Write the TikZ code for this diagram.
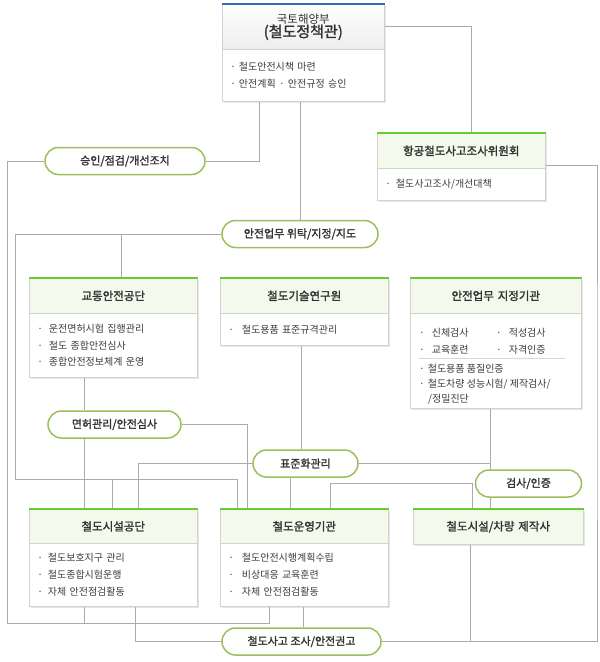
\documentclass[tikz,border=0pt]{standalone}
\usepackage{fontspec}
\setmainfont{Noto Sans CJK KR}
\newfontfamily\medfont[FakeBold=1.6]{Noto Sans CJK KR}
\usetikzlibrary{calc,backgrounds}
\definecolor{linec}{HTML}{ABABAB}
\definecolor{pillc}{HTML}{9CBF5B}
\definecolor{bordc}{HTML}{D2D2D2}
\definecolor{hdrfill}{HTML}{F3FAEC}
\definecolor{barg}{HTML}{66CC33}
\definecolor{barb}{HTML}{2E6DB0}
\definecolor{txt}{HTML}{333333}
\definecolor{btxt}{HTML}{3C3C3C}
\definecolor{shad}{HTML}{E6E6E6}
\begin{document}
\begin{tikzpicture}[x=1pt,y=-1pt,
  conn/.style={draw=linec, line width=0.9pt},
  pill/.style={draw=pillc, line width=1.5pt, fill=white, rounded corners=13.5pt, minimum height=27pt, inner sep=0pt, font=\fontsize{11}{13}\selectfont\medfont, text=txt},
  hdr/.style={draw=bordc, fill=hdrfill, line width=0.6pt, anchor=north west, inner sep=0pt, minimum height=35pt, align=center, font=\fontsize{11.5}{14}\selectfont\medfont, text=txt},
  bodyb/.style={draw=bordc, fill=white, line width=0.6pt, anchor=north west, inner xsep=8pt, inner ysep=0pt, align=left, font=\fontsize{10}{16.5}\selectfont, text=btxt},
  btext/.style={anchor=base west, inner sep=0pt, font=\fontsize{10}{12}\selectfont, text=btxt},
  gbar/.style={draw=barg, line width=2.5pt},
]
\useasboundingbox (0,0) rectangle (600,662);

% top box
\node[hdr, fill=none, top color=white, bottom color=black!7, text width=162pt, minimum height=45pt] (Ah) at (222,4)
  {\fontsize{11.5}{16}\selectfont\rmfamily 국토해양부\\\fontsize{15}{16}\selectfont\medfont (철도정책관)};
\node[bodyb, text width=146pt, minimum height=52pt, font=\fontsize{10}{17}\selectfont] (Ab) at (222,49)
  {·\hspace{3pt}철도안전시책 마련\\·\hspace{3pt}안전계획 · 안전규정 승인};
\draw[draw=barb, line width=2.5pt] (Ah.north west) -- (Ah.north east);

% committee
\node[hdr, text width=168pt] (Bh) at (377,133) {항공철도사고조사위원회};
\node[bodyb, text width=152pt, minimum height=32pt] (Bb) at (377,168) {·\hspace{5pt}철도사고조사/개선대책};
\draw[gbar] (Bh.north west) -- (Bh.north east);

% row 2
\node[hdr, text width=168pt] (C1h) at (29,278) {교통안전공단};
\node[bodyb, text width=152pt, minimum height=64pt] (C1b) at (29,313)
  {·\hspace{6pt}운전면허시험 집행관리\\·\hspace{6pt}철도 종합안전심사\\·\hspace{6pt}종합안전정보체계 운영};
\draw[gbar] (C1h.north west) -- (C1h.north east);

\node[hdr, text width=168pt] (C2h) at (220,278) {철도기술연구원};
\node[bodyb, text width=152pt, minimum height=32pt] (C2b) at (220,313) {·\hspace{8pt}철도용품 표준규격관리};
\draw[gbar] (C2h.north west) -- (C2h.north east);

\node[hdr, text width=171pt] (C3h) at (410,278) {안전업무 지정기관};
\node[bodyb, text width=155pt, minimum height=95pt] (C3b) at (410,313) {};
\draw[gbar] (C3h.north west) -- (C3h.north east);
\node[btext] (c3a) at (419,336) {·\hspace{7pt}신체검사};
\node[btext] (c3b) at (496,336) {·\hspace{7pt}적성검사};
\node[btext] (c3c) at (419,353) {·\hspace{7pt}교육훈련};
\node[btext] (c3d) at (496,353) {·\hspace{7pt}자격인증};
\draw[draw=black!15, line width=0.8pt] (419,358) -- (565,358);
\node[btext] (c3e) at (419,372) {·\hspace{3pt}철도용품 품질인증};
\node[btext] (c3f) at (419,387) {·\hspace{3pt}철도차량 성능시험/ 제작검사/};
\node[btext] (c3g) at (428,402) {/정밀진단};

% row 3
\node[hdr, text width=168pt, minimum height=34pt] (D1h) at (29,509) {철도시설공단};
\node[bodyb, text width=152pt, minimum height=63pt, font=\fontsize{10}{17}\selectfont] (D1b) at (29,543)
  {·\hspace{5pt}철도보호지구 관리\\·\hspace{5pt}철도종합시험운행\\·\hspace{5pt}자체 안전점검활동};
\draw[gbar] (D1h.north west) -- (D1h.north east);

\node[hdr, text width=168pt, minimum height=34pt] (D2h) at (220,509) {철도운영기관};
\node[bodyb, text width=152pt, minimum height=63pt, font=\fontsize{10}{17}\selectfont] (D2b) at (220,543)
  {·\hspace{8pt}철도안전시행계획수립\\·\hspace{8pt}비상대응 교육훈련\\·\hspace{8pt}자체 안전점검활동};
\draw[gbar] (D2h.north west) -- (D2h.north east);

\node[hdr, text width=170pt] (D3h) at (413,509) {철도시설/차량 제작사};
\draw[gbar] (D3h.north west) -- (D3h.north east);

% pills
\node[pill, minimum width=160pt] (P1) at (125,161) {승인/점검/개선조치};
\node[pill, minimum width=156pt] (P2) at (300,234) {안전업무 위탁/지정/지도};
\node[pill, minimum width=133pt] (P3) at (114.5,424.5) {면허관리/안전심사};
\node[pill, minimum width=105pt] (P4) at (305.5,463.5) {표준화관리};
\node[pill, minimum width=106pt] (P5) at (528.5,483.5) {검사/인증};
\node[pill, minimum width=159pt] (P6) at (301.5,641.5) {철도사고 조사/안전권고};

\begin{scope}[on background layer]
  % shadows
  \foreach \t/\b in {Ah/Ab, Bh/Bb, C1h/C1b, C2h/C2b, C3h/C3b, D1h/D1b, D2h/D2b, D3h/D3h}
    \fill[shad] ([shift={(1.5pt,-1.5pt)}]\t.north west) rectangle ([shift={(1.5pt,-1.5pt)}]\b.south east);
  % connectors
  \draw[conn] (Ah.east) -| ([xshift=10pt]Bh.north);
  \draw[conn] ([xshift=-44pt]Ab.south) |- (P1.east);
  \draw[conn] (P2.north |- Ab.south) -- (P2.north);
  \draw[conn] (P1.west) -| (7,623) -| ([xshift=-35pt]D2b.south);
  \draw[conn] ([xshift=-29pt]D1b.south) -- ++(0,17);
  \draw[conn] (P2.west) -| (15,479) -| ([xshift=-67pt]D2h.north);
  \draw[conn] ([xshift=8pt]C1h.north) -- ([xshift=8pt]C1h.north |- P2.west);
  \draw[conn] ([xshift=-1pt]D1h.north) -- ++(0,-30);
  \draw[conn] ([xshift=-29pt]C1b.south) -- ([xshift=-29pt]C1b.south |- P3.north);
  \draw[conn] ([xshift=-29pt]D1h.north) -- ([xshift=-29pt]D1h.north |- P3.south);
  \draw[conn] (P3.east) -| ([xshift=-57pt]D2h.north);
  \draw[conn] ([xshift=-3pt]C2b.south) -- ([xshift=-3pt]C2b.south |- P4.north);
  \draw[conn] (P4.west) -| ([xshift=25pt]D1h.north);
  \draw[conn] ([xshift=-15pt]P4.south) -- ([xshift=-15pt]P4.south |- D2h.north);
  \draw[conn] (P4.east) -| ([xshift=-5.5pt]C3b.south);
  \draw[conn] ([xshift=-5.5pt]C3b.south) -- ([xshift=-5.5pt]C3b.south |- P5.north);
  \draw[conn] ([xshift=-38.5pt]P5.south) -- ([xshift=-38.5pt]P5.south |- D3h.north);
  \draw[conn] ([xshift=26pt]D2h.north) |- ([xshift=-2pt]P5.west) -- ([xshift=-2pt]P5.west |- D3h.north);
  \draw[conn] ([xshift=22pt]D1b.south) |- (P6.west);
  \draw[conn] ([xshift=-1pt]D2b.south) -- ([xshift=-1pt]D2b.south |- P6.north);
  \draw[conn] (P6.east) -| (597,400) |- ([yshift=-15pt]Bh.east);
  \draw[conn] ([xshift=-28pt]D3h.south) -- ([xshift=-28pt]D3h.south |- P6.east);
\end{scope}
\end{tikzpicture}
\end{document}
